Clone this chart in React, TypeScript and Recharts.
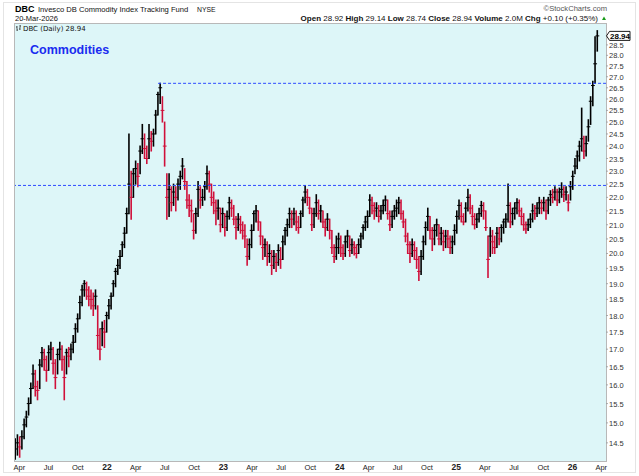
import React from "react";
import { ComposedChart, Bar, XAxis, YAxis, ReferenceLine } from "recharts";

// ---- DATA (weekly bars) ----
const firstWeek = "2021-03-19";
const weekCount = 262;

const closes = [
  14.35, 14.5, 14.4, 14.65, 14.95, 15.15, 15.5, 15.9, 16.3, 15.95,
  15.85, 16.55, 16.9, 16.7, 16.4, 16.9, 17.0, 16.6, 16.2, 16.85,
  17.0, 16.7, 16.2, 16.9, 16.8, 17.0, 17.2, 17.6, 17.9, 18.4,
  18.8, 19.0, 18.8, 18.6, 18.5, 18.3, 18.6, 17.4, 17.0, 17.6,
  17.5, 18.0, 18.3, 18.6, 19.0, 19.4, 19.6, 19.9, 20.3, 20.7,
  21.4, 22.5, 22.0, 22.9, 23.1, 22.8, 23.8, 24.3, 23.9, 23.5,
  24.3, 24.2, 24.5, 25.3, 26.2, 26.5, 25.5, 24.0, 22.0, 22.3,
  21.8, 22.2, 22.0, 22.5, 22.8, 23.2, 22.6, 21.9, 21.7, 21.5,
  20.8, 21.4, 22.3, 21.9, 22.0, 22.4, 22.9, 22.5, 22.0, 21.8,
  21.5, 21.6, 21.0, 21.4, 20.9, 21.3, 21.8, 21.6, 21.2, 20.9,
  21.2, 21.0, 20.8, 20.6, 19.9, 20.3, 20.8, 21.4, 21.5, 21.1,
  20.6, 20.2, 20.3, 19.9, 20.0, 19.6, 19.9, 19.7, 20.1, 19.8,
  20.4, 20.8, 21.0, 21.4, 21.2, 21.4, 21.1, 20.9, 21.4, 21.9,
  22.2, 22.0, 21.6, 21.0, 21.4, 21.8, 21.4, 21.5, 21.1, 20.9,
  21.2, 20.8, 20.2, 19.9, 20.2, 20.5, 20.2, 20.0, 20.4, 20.6,
  20.1, 20.3, 20.2, 20.0, 20.3, 20.6, 20.9, 21.1, 21.3, 21.9,
  21.7, 21.5, 21.6, 21.3, 21.5, 21.7, 21.9, 21.4, 21.0, 21.3,
  21.5, 21.6, 21.8, 21.4, 21.1, 20.6, 20.3, 20.0, 20.3, 20.1,
  19.8, 19.4, 19.9, 20.4, 20.9, 21.3, 20.8, 20.5, 20.8, 21.0,
  20.5, 20.7, 20.4, 20.6, 20.5, 20.2, 20.4, 20.8, 21.3, 21.7,
  21.3, 21.1, 21.6, 22.0, 21.6, 21.3, 21.0, 21.2, 21.4, 21.7,
  21.5, 20.9, 19.8, 20.6, 20.4, 20.2, 20.7, 20.5, 20.9, 21.1,
  21.2, 21.7, 21.1, 21.4, 21.6, 21.8, 21.5, 21.3, 21.0, 20.85,
  21.0, 21.2, 21.5, 21.4, 21.6, 21.8, 21.6, 21.8, 21.5, 21.9,
  22.1, 22.0, 22.2, 21.9, 22.2, 22.3, 22.1, 22.2, 21.8, 22.4,
  22.8, 23.2, 23.6, 24.0, 24.3, 23.8, 24.1, 24.8, 25.9, 26.6,
  27.6, 28.94,
];

const highs = [
  14.6, 14.7, 14.65, 14.8, 15.1, 15.3, 15.65, 16.05, 16.55, 16.4,
  16.1, 16.7, 17.05, 17.0, 16.8, 17.1, 17.2, 17.05, 16.7, 17.0,
  17.2, 17.1, 16.8, 17.0, 17.05, 17.15, 17.4, 17.75, 18.05, 18.6,
  18.95, 19.1, 19.05, 18.9, 18.8, 18.7, 18.8, 18.3, 17.6, 17.8,
  17.85, 18.1, 18.5, 18.7, 19.1, 19.5, 19.8, 20.1, 20.4, 20.9,
  21.6, 24.5, 23.0, 23.1, 23.4, 23.3, 24.0, 24.9, 24.5, 24.0,
  24.9, 24.6, 24.7, 25.5, 26.3, 26.7, 26.1, 25.0, 22.9, 22.9,
  22.4, 22.5, 22.4, 22.7, 23.0, 23.5, 23.1, 22.6, 22.1, 21.9,
  21.4, 21.6, 22.6, 22.4, 22.3, 22.6, 23.2, 23.0, 22.5, 22.2,
  21.9, 21.9, 21.6, 21.6, 21.4, 21.5, 22.0, 21.9, 21.7, 21.3,
  21.4, 21.3, 21.1, 21.0, 20.5, 20.5, 21.0, 21.5, 21.7, 21.5,
  21.1, 20.6, 20.5, 20.4, 20.3, 20.1, 20.1, 20.0, 20.3, 20.2,
  20.6, 20.9, 21.2, 21.6, 21.5, 21.6, 21.5, 21.3, 21.5, 22.0,
  22.45, 22.3, 22.0, 21.6, 21.6, 22.1, 21.9, 21.7, 21.5, 21.2,
  21.4, 21.2, 20.8, 20.3, 20.6, 20.7, 20.6, 20.3, 20.6, 20.8,
  20.6, 20.5, 20.4, 20.3, 20.5, 20.7, 21.0, 21.3, 21.5, 22.1,
  22.0, 21.8, 21.8, 21.7, 21.7, 21.9, 22.05, 21.9, 21.5, 21.5,
  21.7, 21.9, 22.0, 21.9, 21.5, 21.2, 20.7, 20.4, 20.5, 20.4,
  20.2, 19.9, 20.1, 20.6, 21.1, 21.6, 21.3, 20.9, 21.0, 21.2,
  21.0, 20.9, 20.8, 20.8, 20.8, 20.6, 20.6, 21.0, 21.5, 21.9,
  21.8, 21.4, 21.8, 22.3, 22.1, 21.7, 21.4, 21.4, 21.6, 21.85,
  21.8, 21.5, 20.6, 20.9, 20.8, 20.6, 20.9, 20.9, 21.0, 21.2,
  21.4, 22.5, 21.8, 21.6, 21.8, 21.95, 21.9, 21.6, 21.4, 21.1,
  21.2, 21.4, 21.75, 21.7, 21.8, 22.0, 21.9, 22.0, 21.9, 22.0,
  22.25, 22.3, 22.4, 22.3, 22.35, 22.55, 22.4, 22.4, 22.1, 22.6,
  23.0, 23.5, 23.8, 24.2, 25.6, 24.4, 24.4, 25.1, 26.1, 26.8,
  28.9, 29.2,
];

const lows = [
  14.1, 14.2, 14.15, 14.35, 14.6, 14.9, 15.2, 15.5, 15.9, 15.7,
  15.6, 15.9, 16.5, 16.4, 16.1, 16.4, 16.7, 16.3, 15.9, 16.3,
  16.7, 16.4, 15.6, 16.3, 16.5, 16.7, 16.9, 17.2, 17.5, 17.9,
  18.3, 18.6, 18.5, 18.3, 18.2, 18.0, 18.2, 17.0, 16.7, 17.1,
  17.05, 17.5, 17.9, 18.2, 18.6, 18.9, 19.3, 19.5, 19.9, 20.2,
  20.7, 21.4, 21.2, 22.0, 22.5, 22.4, 22.9, 23.7, 23.5, 23.3,
  23.5, 23.8, 24.0, 24.5, 25.3, 25.8, 25.0, 23.2, 21.2, 21.3,
  21.5, 21.7, 21.5, 21.9, 22.3, 22.7, 22.3, 21.6, 21.3, 21.1,
  20.5, 20.7, 21.3, 21.6, 21.7, 21.9, 22.3, 22.2, 21.7, 21.4,
  21.0, 21.2, 20.75, 20.9, 20.6, 20.8, 21.2, 21.3, 21.0, 20.5,
  20.8, 20.7, 20.5, 20.2, 19.6, 19.8, 20.2, 20.8, 21.1, 20.8,
  20.3, 19.8, 19.9, 19.6, 19.7, 19.3, 19.5, 19.4, 19.6, 19.5,
  19.8, 20.3, 20.6, 20.9, 20.9, 21.0, 20.8, 20.7, 20.9, 21.3,
  21.8, 21.7, 21.4, 20.8, 20.9, 21.3, 21.2, 21.1, 20.9, 20.6,
  20.8, 20.5, 20.0, 19.7, 19.8, 20.0, 19.9, 19.8, 19.9, 20.2,
  19.9, 20.0, 19.95, 19.85, 20.0, 20.2, 20.5, 20.8, 20.9, 21.3,
  21.4, 21.2, 21.3, 21.1, 21.2, 21.4, 21.5, 21.2, 20.8, 20.9,
  21.2, 21.3, 21.4, 21.2, 20.9, 20.4, 20.0, 19.7, 19.9, 19.8,
  19.5, 19.1, 19.3, 19.8, 20.3, 20.8, 20.5, 20.1, 20.3, 20.6,
  20.3, 20.3, 20.1, 20.2, 20.2, 20.0, 20.0, 20.3, 20.7, 21.2,
  21.1, 21.0, 21.1, 21.5, 21.4, 21.0, 20.85, 20.9, 21.1, 21.3,
  21.2, 20.8, 19.2, 19.9, 20.0, 20.0, 20.2, 20.3, 20.4, 20.7,
  20.9, 21.1, 20.9, 21.0, 21.2, 21.4, 21.3, 21.0, 20.8, 20.7,
  20.8, 20.9, 21.1, 21.2, 21.3, 21.4, 21.4, 21.5, 21.2, 21.4,
  21.7, 21.8, 21.9, 21.7, 21.8, 22.0, 21.85, 21.9, 21.5, 21.9,
  22.3, 22.9, 23.1, 23.4, 23.8, 23.5, 23.6, 24.2, 24.9, 25.7,
  26.7, 28.2,
];

const xTickDates = [
  "2021-04-01", "2021-07-01", "2021-10-01", "2022-01-01",
  "2022-04-01", "2022-07-01", "2022-10-01", "2023-01-01",
  "2023-04-01", "2023-07-01", "2023-10-01", "2024-01-01",
  "2024-04-01", "2024-07-01", "2024-10-01", "2025-01-01",
  "2025-04-01", "2025-07-01", "2025-10-01", "2026-01-01",
  "2026-04-01",
];
const xTickLabels = [
  "Apr", "Jul", "Oct", "22", "Apr", "Jul", "Oct", "23", "Apr", "Jul", "Oct", "24",
  "Apr", "Jul", "Oct", "25", "Apr", "Jul", "Oct", "26", "Apr",
];
const yTickValues = [
  14.5, 15.0, 15.5, 16.0, 16.5, 17.0, 17.5, 18.0, 18.5, 19.0, 19.5, 20.0, 20.5,
  21.0, 21.5, 22.0, 22.5, 23.0, 23.5, 24.0, 24.5, 25.0, 25.5, 26.0, 26.5, 27.0,
  27.5, 28.0, 28.5,
];
const lastClose = 28.94;
const supportLevel = 22.45;
const resistanceLevel = 26.7;
const resistanceStartWeek = 64;
const xDomainDates = ["2021-03-18", "2026-04-16"];
const yDomain = [14.06, 29.53];

// ---- build table ----
const DAY = 86400000;
const toMs = (s: string) => Date.parse(s + "T00:00:00Z");
const startMs = toMs(firstWeek);
const data = Array.from({ length: weekCount }, (_, i) => ({
  t: startMs + i * 7 * DAY,
  close: closes[i],
  high: highs[i],
  low: lows[i],
  range: [lows[i], highs[i]],
  up: i === 0 ? true : closes[i] >= closes[i - 1],
}));
const xTicks = xTickDates.map(toMs);
const xDomain = xDomainDates.map(toMs);
const yTicks = [...yTickValues, lastClose];

const FONT = "'Liberation Sans', Arial, Helvetica, sans-serif";
const RED = "#d0103a";
const BLUE = "#2d4bff";

const OhlcShape = (props: any) => {
  const { x, y, width, height, payload } = props;
  if (x == null || y == null || !payload) return null;
  const top = Math.min(y, y + height);
  const bot = Math.max(y, y + height);
  const cx = x + width / 2;
  const lh = Math.log(payload.high);
  const ll = Math.log(payload.low);
  const t = lh - ll > 0 ? (lh - Math.log(payload.close)) / (lh - ll) : 0.5;
  const cy = top + t * (bot - top);
  const color = payload.up ? "#000000" : RED;
  return (
    <g>
      <line x1={cx} x2={cx} y1={top - 0.5} y2={bot + 0.5} stroke={color} strokeWidth={1.6} />
      <line x1={cx - 1.8} x2={cx + 2} y1={cy} y2={cy} stroke={color} strokeWidth={1} />
    </g>
  );
};

const XTick = (props: any) => {
  const { x, payload } = props;
  const idx = xTicks.indexOf(payload.value);
  const label = idx >= 0 ? xTickLabels[idx] : "";
  const isYear = /^\d+$/.test(label);
  return (
    <text
      x={x}
      y={470}
      textAnchor="middle"
      fontFamily={FONT}
      fontSize={isYear ? 8.5 : 7.5}
      fontWeight={isYear ? "bold" : "normal"}
      fill="#222"
    >
      {label}
    </text>
  );
};

const YTick = (props: any) => {
  const { y, payload } = props;
  const v = payload.value;
  const x0 = 606;
  if (v === lastClose) {
    return (
      <g>
        <polygon
          points={`${x0 + 0.5},${y} ${x0 + 3.5},${y - 4.5} ${x0 + 24},${y - 4.5} ${x0 + 24},${y + 4.5} ${x0 + 3.5},${y + 4.5}`}
          fill="#ffffff"
          stroke="#000"
          strokeWidth={0.9}
        />
        <text x={x0 + 4} y={y + 3} fontFamily={FONT} fontSize={8} fontWeight="bold" fill="#000">
          {v.toFixed(2)}
        </text>
      </g>
    );
  }
  return (
    <g>
      <line x1={x0} x2={x0 + 2} y1={y} y2={y} stroke="#999" strokeWidth={0.8} />
      <text x={x0 + 3} y={y + 3} fontFamily={FONT} fontSize={7.5} fill="#333">
        {v.toFixed(1)}
      </text>
    </g>
  );
};

export default function App() {
  return (
    <div style={{ position: "absolute", left: 0, top: 0, width: 639, height: 476, background: "#ffffff", overflow: "hidden" }}>
      <div
        style={{
          position: "absolute",
          left: 3,
          top: 2,
          width: 633,
          height: 471,
          border: "1px solid #e4e4e4",
          boxSizing: "border-box",
        }}
      />
      <div
        style={{
          position: "absolute",
          left: 14,
          top: 23,
          width: 593,
          height: 439,
          background: "#ddf6f8",
          border: "1px solid #b8b8b8",
          boxSizing: "border-box",
        }}
      />
      <div style={{ position: "absolute", left: 0, top: 0 }}>
        <ComposedChart width={639} height={476} data={data} margin={{ top: 24, right: 0, bottom: 0, left: 15 }}>
          <XAxis
            dataKey="t"
            type="number"
            domain={xDomain}
            allowDataOverflow
            ticks={xTicks}
            interval={0}
            tick={<XTick />}
            tickLine={false}
            axisLine={false}
            height={15}
          />
          <YAxis
            orientation="right"
            type="number"
            scale="log"
            domain={yDomain}
            allowDataOverflow
            ticks={yTicks}
            interval={0}
            tick={<YTick />}
            tickLine={false}
            axisLine={false}
            width={33}
          />
          <ReferenceLine y={supportLevel} stroke={BLUE} strokeOpacity={1} strokeWidth={1} strokeDasharray="3 2" />
          <ReferenceLine
            segment={[
              { x: data[resistanceStartWeek].t, y: resistanceLevel },
              { x: xDomain[1], y: resistanceLevel },
            ]}
            stroke={BLUE}
            strokeOpacity={1}
            strokeWidth={1}
            strokeDasharray="3 2"
          />
          <Bar dataKey="range" barSize={2} shape={(p: any) => <OhlcShape {...p} />} isAnimationActive={false} />
        </ComposedChart>
      </div>
      <svg width={639} height={476} style={{ position: "absolute", left: 0, top: 0, pointerEvents: "none" }}>
        <text x={15} y={11.5} fontFamily={FONT} fontSize={9} fontWeight="bold" fill="#000">
          DBC
        </text>
        <text x={38} y={11.5} fontFamily={FONT} fontSize={7.6} fill="#111">
          Invesco DB Commodity Index Tracking Fund
        </text>
        <text x={197} y={11.5} fontFamily={FONT} fontSize={6.8} fill="#111">
          NYSE
        </text>
        <text x={15} y={20.5} fontFamily={FONT} fontSize={7.5} fill="#111">
          20-Mar-2026
        </text>
        <text x={607} y={10.5} textAnchor="end" fontFamily={FONT} fontSize={7.6} fill="#555">
          ©StockCharts.com
        </text>
        <text x={598} y={20.5} textAnchor="end" fontFamily={FONT} fontSize={8} fill="#111">
          <tspan fontWeight="bold">Open</tspan>
          <tspan> 28.92 </tspan>
          <tspan fontWeight="bold">High</tspan>
          <tspan> 29.14 </tspan>
          <tspan fontWeight="bold">Low</tspan>
          <tspan> 28.74 </tspan>
          <tspan fontWeight="bold">Close</tspan>
          <tspan> 28.94 </tspan>
          <tspan fontWeight="bold">Volume</tspan>
          <tspan> 2.0M </tspan>
          <tspan fontWeight="bold">Chg</tspan>
          <tspan> +0.10 (+0.35%)</tspan>
        </text>
        <polygon points="602,20 606,20 604,16.5" fill="#1a9a1a" />
        <g stroke="#333" strokeWidth={0.8}>
          <line x1={17} x2={17} y1={26} y2={31} />
          <line x1={16} x2={17} y1={27} y2={27} />
          <line x1={17} x2={18} y1={30} y2={30} />
          <line x1={20} x2={20} y1={25} y2={30} />
          <line x1={19} x2={20} y1={29} y2={29} />
          <line x1={20} x2={21} y1={26} y2={26} />
        </g>
        <text x={23} y={31} fontFamily="'DejaVu Sans', Verdana, sans-serif" fontSize={7} fill="#111">
          DBC (Daily) 28.94
        </text>
        <text x={30} y={54} fontFamily={FONT} fontSize={12.5} fontWeight="bold" fill="#1a2cf0">
          Commodities
        </text>
      </svg>
    </div>
  );
}
